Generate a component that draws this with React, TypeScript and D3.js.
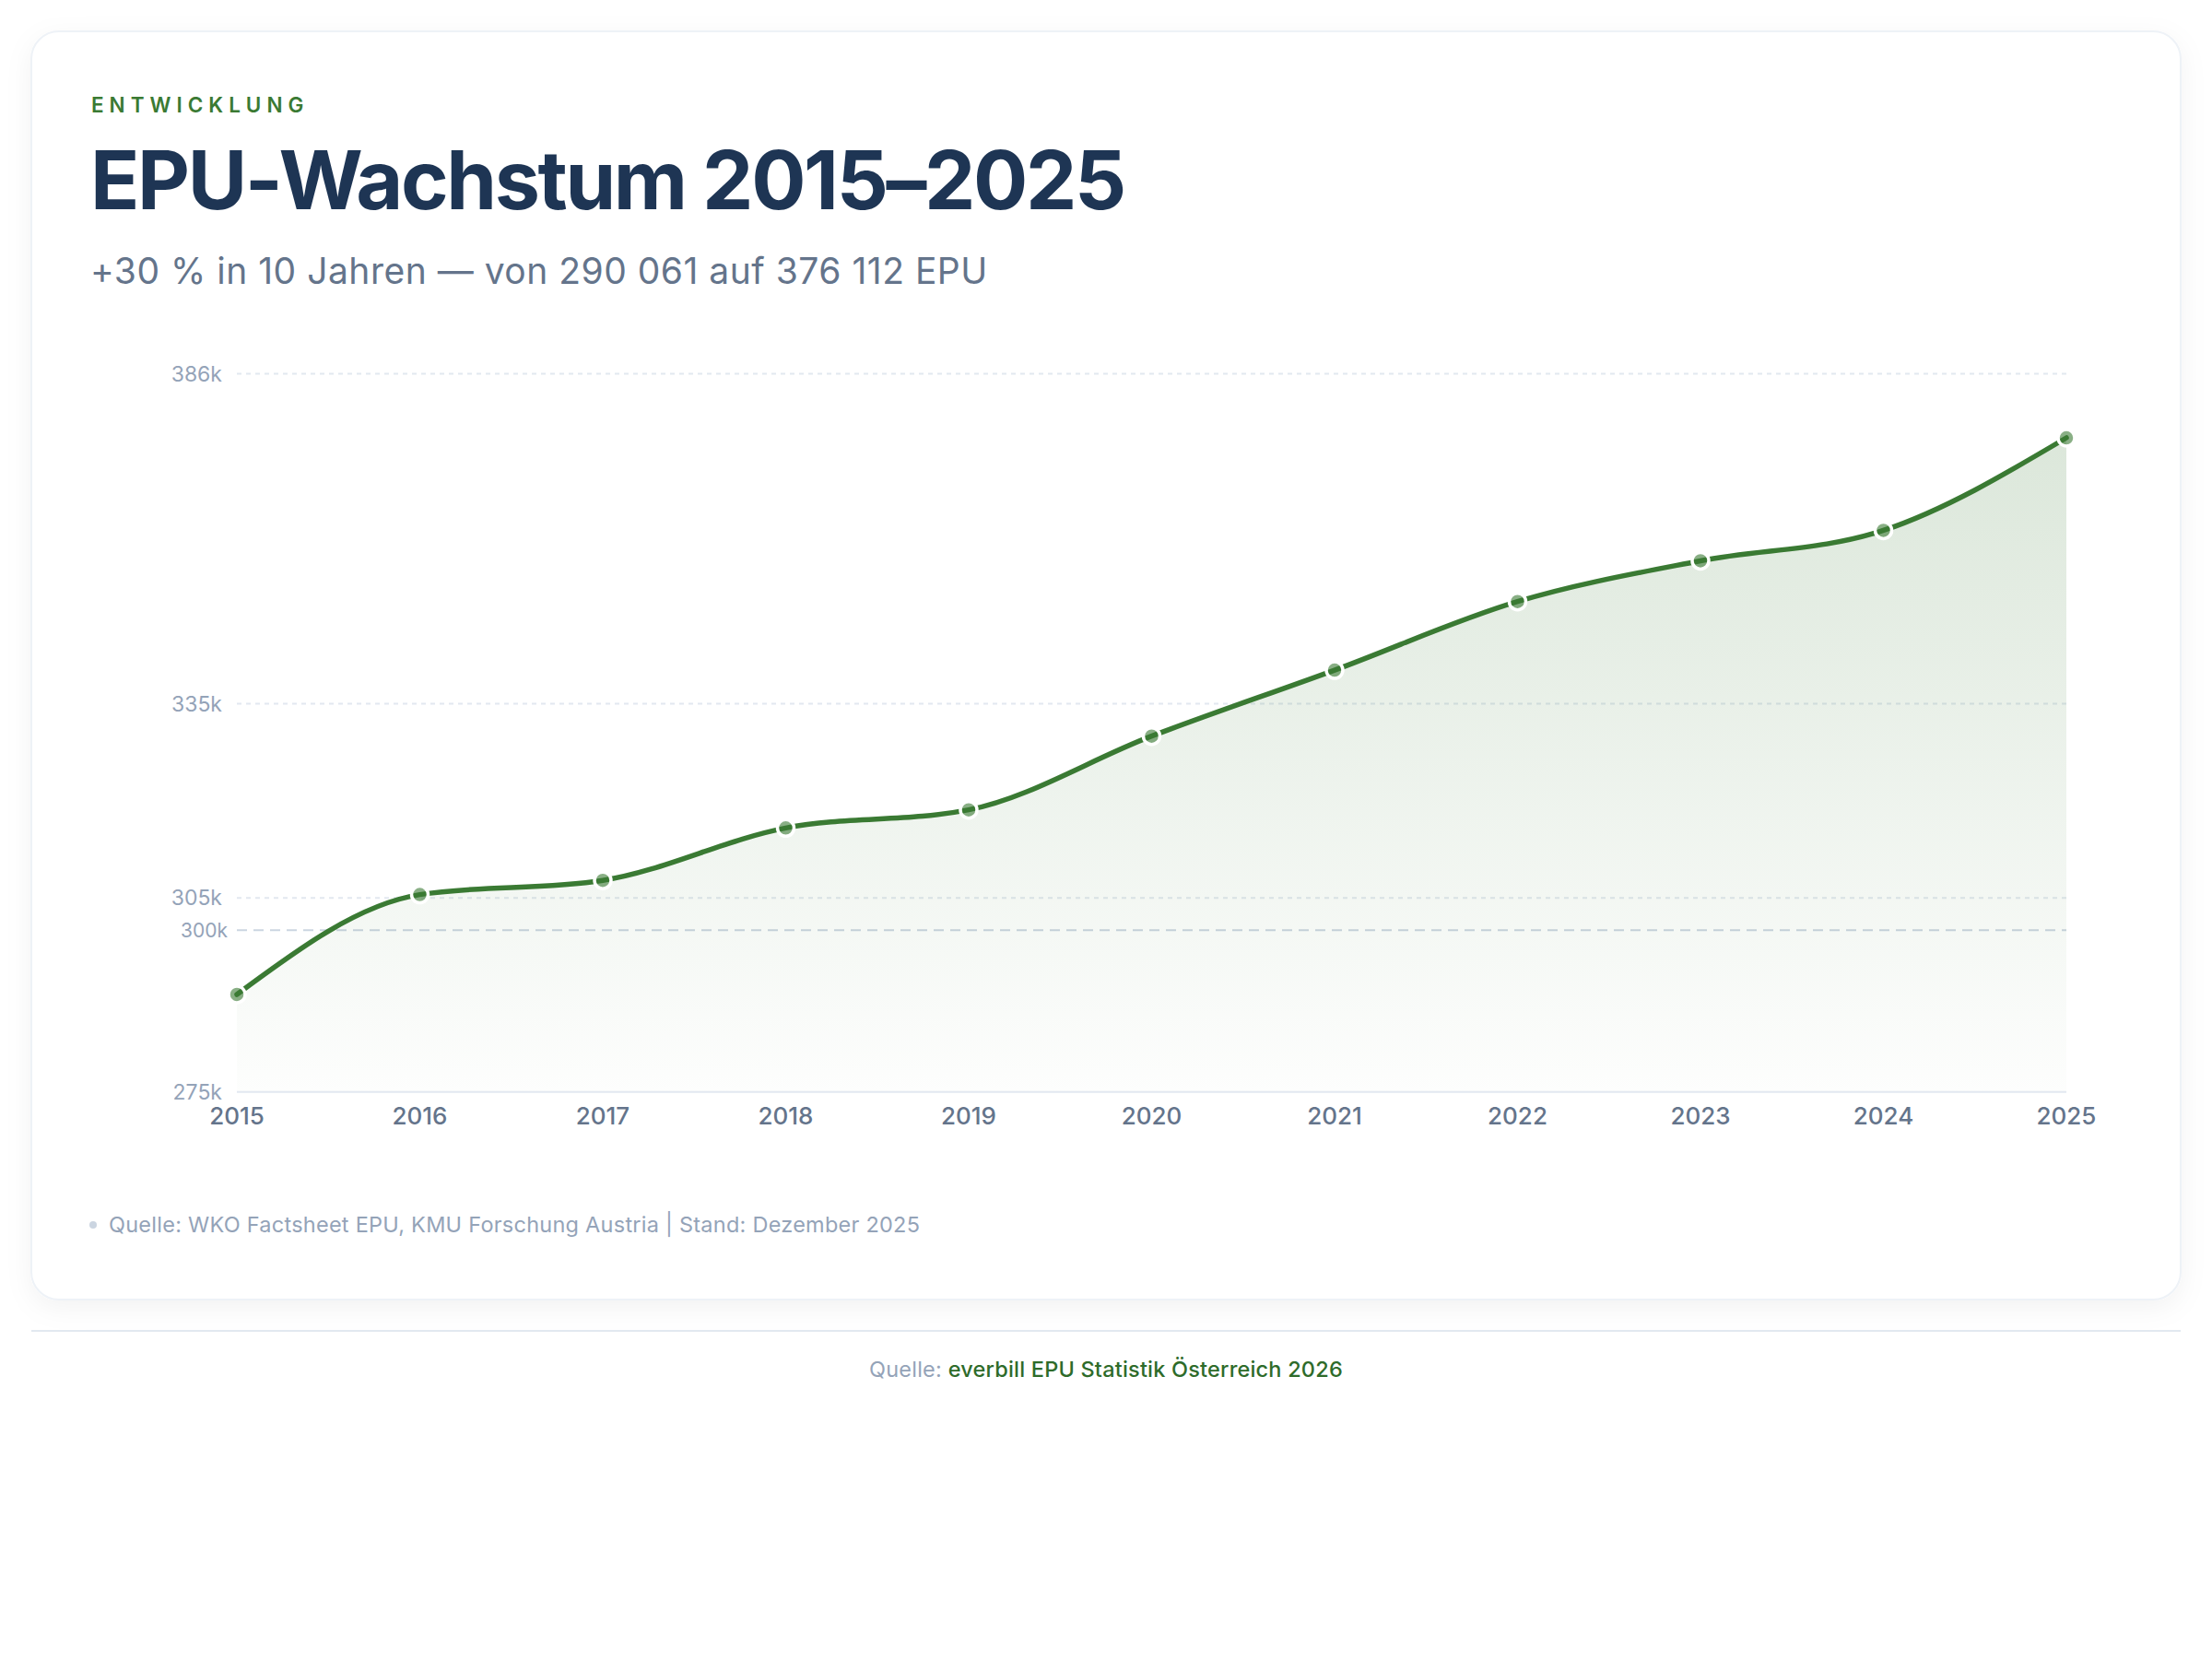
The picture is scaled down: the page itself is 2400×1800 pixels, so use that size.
import React from "react";
import * as d3 from "d3";

const years = [2015, 2016, 2017, 2018, 2019, 2020, 2021, 2022, 2023, 2024, 2025];
const epu = [290061, 305500, 307700, 315800, 318600, 330000, 340200, 350800, 357100, 361800, 376112];
const yTicks = [275000, 305000, 335000, 386000];
const yTickLabels = ["275k", "305k", "335k", "386k"];
const refValue = 300000;
const refLabel = "300k";

const GREEN = "#3a7a33";
const FONT = "Inter, 'Noto Sans', sans-serif";

export default function App() {
  const W = 2400;
  const H = 1800;
  const left = 257;
  const right = 2242;
  const top = 405.6;
  const bottom = 1184.7;

  const x = d3.scaleLinear().domain([years[0], years[years.length - 1]]).range([left, right]);
  const y = d3.scaleLinear().domain([275000, 386000]).range([bottom, top]);

  const pts = years.map((yr, i) => ({ yr, v: epu[i] }));
  const line = d3
    .line<{ yr: number; v: number }>()
    .x((d) => x(d.yr))
    .y((d) => y(d.v))
    .curve(d3.curveMonotoneX);
  const area = d3
    .area<{ yr: number; v: number }>()
    .x((d) => x(d.yr))
    .y0(y(275000))
    .y1((d) => y(d.v))
    .curve(d3.curveMonotoneX);

  return (
    <svg
      width={W}
      height={H}
      viewBox={`0 0 ${W} ${H}`}
      style={{ position: "absolute", left: 0, top: 0, display: "block", background: "#ffffff" }}
    >
      <defs>
        <filter id="cardShadow" x="-5%" y="-5%" width="110%" height="115%">
          <feDropShadow dx="0" dy="8" stdDeviation="14" floodColor="#0f172a" floodOpacity="0.05" />
        </filter>
        <linearGradient id="areaGrad" x1="0" y1="0" x2="0" y2="1">
          <stop offset="0%" stopColor={GREEN} stopOpacity={0.18} />
          <stop offset="100%" stopColor={GREEN} stopOpacity={0.01} />
        </linearGradient>
      </defs>

      <rect
        x={34}
        y={34}
        width={2332}
        height={1376}
        rx={30}
        ry={30}
        fill="#ffffff"
        stroke="#eef2f7"
        strokeWidth={2}
        filter="url(#cardShadow)"
      />

      <text x={99} y={122} fontFamily={FONT} fontSize={22.5} fontWeight={600} fill={GREEN} letterSpacing={6}>
        ENTWICKLUNG
      </text>
      <text x={98} y={227} fontFamily={FONT} fontSize={88} fontWeight={700} fill="#1e3554" letterSpacing={-2.4}>
        EPU-Wachstum 2015–2025
      </text>
      <text x={98} y={308} fontFamily={FONT} fontSize={39} fontWeight={400} fill="#64748b" letterSpacing={0.5}>
        +30 % in 10 Jahren — von 290 061 auf 376 112 EPU
      </text>

      {/* grid */}
      {yTicks.map((t, i) => (
        <g key={t}>
          {i > 0 && (
            <line x1={left} x2={right} y1={y(t)} y2={y(t)} stroke="#e2e8f0" strokeWidth={2} strokeDasharray="5 5" />
          )}
          <text
            x={241}
            y={y(t)}
            dy="0.35em"
            textAnchor="end"
            fontFamily={FONT}
            fontSize={23}
            fill="#94a3b8"
          >
            {yTickLabels[i]}
          </text>
        </g>
      ))}
      <line
        x1={left}
        x2={right}
        y1={y(refValue)}
        y2={y(refValue)}
        stroke="#cbd5e1"
        strokeWidth={2}
        strokeDasharray="11 7"
      />
      <text x={247} y={y(refValue)} dy="0.35em" textAnchor="end" fontFamily={FONT} fontSize={21} fill="#94a3b8">
        {refLabel}
      </text>

      <path d={area(pts) || ""} fill="url(#areaGrad)" />
      <line x1={left} x2={right} y1={y(275000)} y2={y(275000)} stroke="#e2e8f0" strokeWidth={2} />
      <path d={line(pts) || ""} fill="none" stroke={GREEN} strokeWidth={5.5} strokeLinejoin="round" strokeLinecap="round" />
      {pts.map((d) => (
        <circle
          key={d.yr}
          cx={x(d.yr)}
          cy={y(d.v)}
          r={9}
          fill={GREEN}
          fillOpacity={0.6}
          stroke="#ffffff"
          strokeWidth={3.5}
        />
      ))}

      {years.map((yr) => (
        <text
          key={yr}
          x={x(yr)}
          y={1220}
          textAnchor="middle"
          fontFamily={FONT}
          fontSize={26}
          fontWeight={500}
          fill="#64748b"
        >
          {yr}
        </text>
      ))}

      <circle cx={101} cy={1329} r={4} fill="#cbd5e1" />
      <text x={118} y={1337} fontFamily={FONT} fontSize={23.5} fill="#94a3b8" letterSpacing={0.25}>
        Quelle: WKO Factsheet EPU, KMU Forschung Austria | Stand: Dezember 2025
      </text>

      <line x1={34} x2={2366} y1={1444} y2={1444} stroke="#e2e8f0" strokeWidth={2} />
      <text x={1200} y={1494} textAnchor="middle" fontFamily={FONT} fontSize={23.5} letterSpacing={0.2}>
        <tspan fill="#94a3b8">Quelle: </tspan>
        <tspan fill="#2e6b2a" fontWeight={500}>
          everbill EPU Statistik Österreich 2026
        </tspan>
      </text>
    </svg>
  );
}
